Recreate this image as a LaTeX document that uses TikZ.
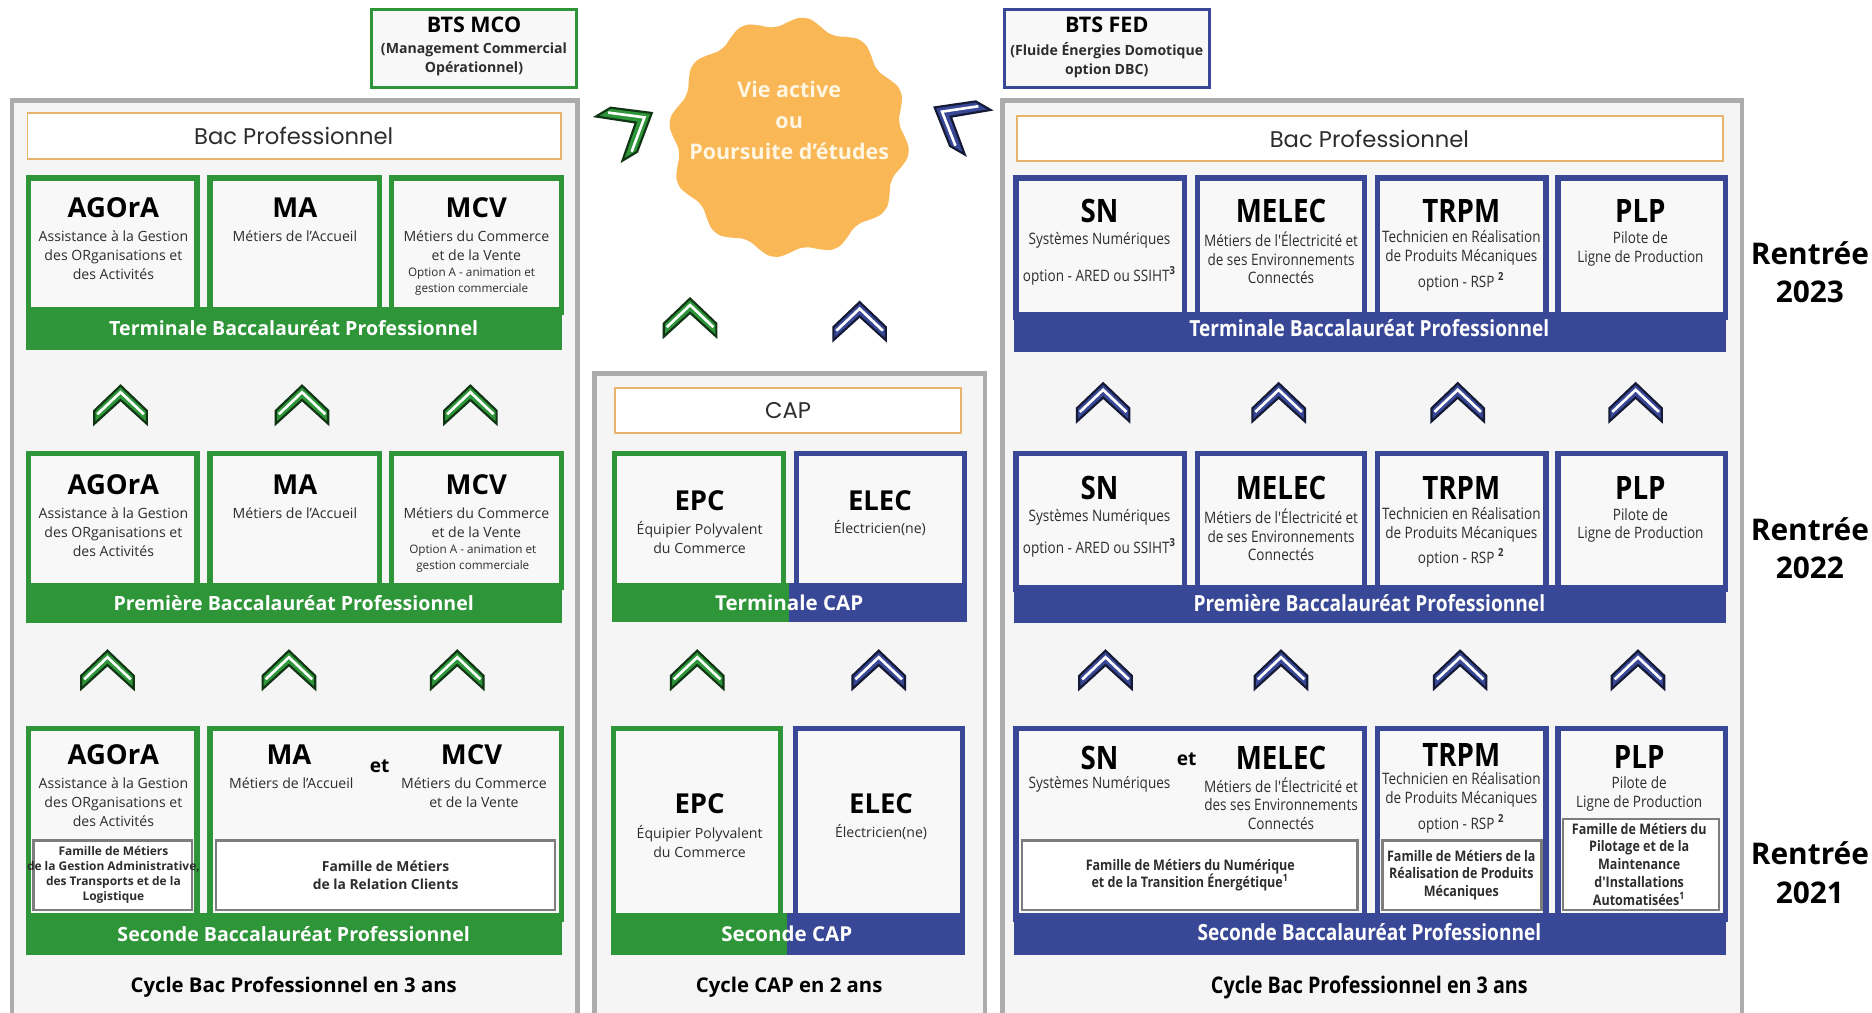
\documentclass[tikz,border=0pt]{standalone}
\usepackage{fontspec}
\setmainfont{Open Sans}
\newfontfamily\pop{Poppins}
\newfontfamily\cond[FakeStretch=0.86]{Open Sans}
\usetikzlibrary{fit}
\definecolor{cgreen}{RGB}{46,150,57}
\definecolor{cblue}{RGB}{57,72,150}
\definecolor{corange}{RGB}{249,183,85}
\definecolor{cgray}{RGB}{172,172,172}
\definecolor{cpanel}{RGB}{245,245,245}
\definecolor{ccard}{RGB}{248,248,248}
\definecolor{cbacb}{RGB}{232,180,105}
\definecolor{csub}{RGB}{125,125,125}
\definecolor{ctext}{RGB}{45,45,45}
\definecolor{cvie}{RGB}{255,246,228}
\begin{document}
\begin{tikzpicture}[x=0.5pt,y=-0.5pt,
  panel/.style={draw=cgray, line width=2pt, fill=cpanel, inner sep=0pt},
  bacbox/.style={draw=cbacb, line width=0.8pt, fill=white, inner sep=0pt},
  gcard/.style={draw=cgreen, line width=2.2pt, fill=ccard, inner sep=0pt},
  bcard/.style={draw=cblue, line width=2.2pt, fill=ccard, inner sep=0pt},
  gband/.style={fill=cgreen, inner sep=0pt},
  bband/.style={fill=cblue, inner sep=0pt},
  subbox/.style={draw=csub, line width=1pt, fill=white, inner sep=0pt},
  ttl/.style={font=\bfseries\fontsize{11.5}{13}\selectfont, text=black, inner sep=0pt},
  dsc/.style={font=\fontsize{5.9}{8}\selectfont, align=center, text=ctext, inner sep=0pt},
  opt/.style={font=\fontsize{4.9}{6.5}\selectfont, align=center, text=ctext, inner sep=0pt},
  sub/.style={font=\bfseries\fontsize{5}{6.3}\selectfont, align=center, text=ctext, inner sep=0pt},
  subw/.style={font=\bfseries\fontsize{5.8}{7.5}\selectfont, align=center, text=ctext, inner sep=0pt},
  rttl/.style={font=\cond\bfseries\fontsize{13.5}{15}\selectfont, text=black, inner sep=0pt},
  rdsc/.style={font=\cond\fontsize{6.6}{7.8}\selectfont, align=center, text=ctext, inner sep=0pt},
  rsub/.style={font=\cond\bfseries\fontsize{6.1}{7.5}\selectfont, align=center, text=ctext, inner sep=0pt},
  bandtxt/.style={font=\bfseries\fontsize{8.2}{10}\selectfont, text=white, inner sep=0pt},
  rbandtxt/.style={font=\cond\bfseries\fontsize{9.3}{10}\selectfont, text=white, inner sep=0pt},
  cyc/.style={font=\bfseries\fontsize{8.5}{10}\selectfont, text=black, inner sep=0pt},
  rcyc/.style={font=\cond\bfseries\fontsize{9.6}{10}\selectfont, text=black, inner sep=0pt},
  bactxt/.style={font=\pop\fontsize{9.5}{10}\selectfont, text=ctext, inner sep=0pt},
  etxt/.style={font=\bfseries\fontsize{8}{9}\selectfont, text=black, inner sep=0pt},
  rentree/.style={font=\bfseries\fontsize{12.5}{16}\selectfont, align=center, text=black, inner sep=0pt},
  btsbox/.style={line width=1.3pt, fill=ccard, inner sep=0pt},
  btsttl/.style={font=\bfseries\fontsize{9}{10}\selectfont, text=black, inner sep=0pt},
  btssub/.style={font=\bfseries\fontsize{5.9}{8}\selectfont, align=center, text=ctext, inner sep=0pt},
  pics/chev/.style={code={
    \fill[#1] (-22,4) -- (0,-17) -- (22,4) -- (22,15) -- (0,-5) -- (-22,15) -- cycle;
    \draw[#1!35!black, line width=0.9pt, line join=miter] (-22,4) -- (0,-17) -- (22,4) -- (22,15) -- (0,-5) -- (-22,15) -- cycle;
    \draw[white, line width=1.1pt] (-19.5,7) -- (0,-11.5) -- (19.5,7);
  }}
]
\useasboundingbox (0,0) rectangle (1568,848);
\clip (0,0) rectangle (1568,848);
\node[fill=white, inner sep=0pt, fit={(0,0)(1568,848)}] (bg) {};

% ---------- panels ----------
\node[panel, fit={(10,84)(484,858)}] (pL) {};
\node[panel, fit={(498,313)(825,858)}] (pM) {};
\node[panel, fit={(840,84)(1459,858)}] (pR) {};

% ---------- BTS boxes ----------
\node[btsbox, draw=cgreen, fit={(311,8)(483,73)}] (btsM) {};
\node[btsttl] at (397,21) (btsMt) {BTS MCO};
\node[btssub] at (397,50) (btsMs) {(Management Commercial\\Opérationnel)};
\node[btsbox, draw=cblue, fit={(841,8)(1013,73)}] (btsF) {};
\node[btsttl] at (927,21) (btsFt) {BTS FED};
\node[btssub] at (927,50) (btsFs) {(Fluide Énergies Domotique\\option DBC)};

% ---------- blob ----------
\fill[corange] plot[smooth cycle, samples=72, domain=0:355]
  ({661+(97+4*sin(12*\x))*cos(\x)},{115+(97+4*sin(12*\x))*sin(\x)});
\node[font=\bfseries\fontsize{9}{13}\selectfont, text=cvie, align=center, inner sep=0pt] at (661,101) (vie) {Vie active\\ou\\Poursuite d'études};

% ---------- Bac boxes ----------
\node[bacbox, fit={(23,95)(470,133)}] (bacL) {};
\node[bactxt] at (246,114) (bacLt) {Bac Professionnel};
\node[bacbox, fit={(852,97)(1443,135)}] (bacR) {};
\node[bactxt] at (1147,116) (bacRt) {Bac Professionnel};
\node[bacbox, fit={(515,325)(805,363)}] (capB) {};
\node[bactxt] at (660,344) (capBt) {CAP};

% ---------- LEFT: row 1 ----------
\node[gcard, fit={(24,149)(165,262)}] (L1a) {};
\node[gcard, fit={(176,149)(318,262)}] (L1b) {};
\node[gcard, fit={(328,149)(470,262)}] (L1c) {};
\node[gband, fit={(22,257)(471,293)}] (L1band) {};
\node[bandtxt] at (246,275) (L1bt) {Terminale Baccalauréat Professionnel};
\node[ttl] at (95,174) (L1at) {AGOrA};
\node[dsc] at (95,214) (L1ad) {Assistance à la Gestion\\des ORganisations et\\des Activités};
\node[ttl] at (247,174) (L1bt2) {MA};
\node[dsc] at (247,198) (L1bd) {Métiers de l'Accueil};
\node[ttl] at (399,174) (L1ct) {MCV};
\node[dsc] at (399,206) (L1cd) {Métiers du Commerce\\et de la Vente};
\node[opt] at (395,236) (L1co) {Option A - animation et\\gestion commerciale};

% ---------- LEFT: row 2 ----------
\node[gcard, fit={(24,380)(165,492)}] (L2a) {};
\node[gcard, fit={(176,380)(318,492)}] (L2b) {};
\node[gcard, fit={(328,380)(470,492)}] (L2c) {};
\node[gband, fit={(22,488)(471,522)}] (L2band) {};
\node[bandtxt] at (246,505) (L2bt) {Première Baccalauréat Professionnel};
\node[ttl] at (95,406) (L2at) {AGOrA};
\node[dsc] at (95,446) (L2ad) {Assistance à la Gestion\\des ORganisations et\\des Activités};
\node[ttl] at (247,406) (L2bt2) {MA};
\node[dsc] at (247,430) (L2bd) {Métiers de l'Accueil};
\node[ttl] at (399,406) (L2ct) {MCV};
\node[dsc] at (399,438) (L2cd) {Métiers du Commerce\\et de la Vente};
\node[opt] at (396,468) (L2co) {Option A - animation et\\gestion commerciale};

% ---------- LEFT: row 3 ----------
\node[gcard, fit={(24,610)(165,770)}] (L3a) {};
\node[gcard, fit={(176,610)(470,770)}] (L3b) {};
\node[gband, fit={(22,765)(471,800)}] (L3band) {};
\node[bandtxt] at (246,782) (L3bt) {Seconde Baccalauréat Professionnel};
\node[subbox, fit={(28,704)(161,762)}] (L3as) {};
\node[subbox, fit={(181,704)(465,762)}] (L3bs) {};
\node[ttl] at (95,632) (L3at) {AGOrA};
\node[dsc] at (95,672) (L3ad) {Assistance à la Gestion\\des ORganisations et\\des Activités};
\node[sub] at (95,733) (L3ast) {Famille de Métiers\\de la Gestion Administrative,\\des Transports et de la\\Logistique};
\node[ttl] at (242,632) (L3bt2) {MA};
\node[dsc] at (244,656) (L3bd) {Métiers de l'Accueil};
\node[etxt] at (318,642) (L3et) {et};
\node[ttl] at (395,632) (L3ct) {MCV};
\node[dsc] at (397,664) (L3cd) {Métiers du Commerce\\et de la Vente};
\node[subw] at (323,733) (L3bst) {Famille de Métiers\\de la Relation Clients};
\node[cyc] at (246,827) (Lcyc) {Cycle Bac Professionnel en 3 ans};

% ---------- MIDDLE ----------
\node[gcard, fit={(515,380)(656,492)}] (M1a) {};
\node[bcard, fit={(667,380)(808,492)}] (M1b) {};
\node[gband, fit={(513,488)(661,521)}] (M1g) {};
\node[bband, fit={(661,488)(810,521)}] (M1bl) {};
\node[bandtxt, font=\bfseries\fontsize{8.6}{10}\selectfont] at (661,505) (M1bt) {Terminale CAP};
\node[ttl] at (586,419) (M1at) {EPC};
\node[dsc] at (586,450) (M1ad) {Équipier Polyvalent\\du Commerce};
\node[ttl] at (737,419) (M1bt2) {ELEC};
\node[dsc] at (737,442) (M1bd) {Électricien(ne)};

\node[gcard, fit={(514,610)(654,770)}] (M3a) {};
\node[bcard, fit={(666,610)(806,770)}] (M3b) {};
\node[gband, fit={(512,765)(659,800)}] (M3g) {};
\node[bband, fit={(659,765)(808,800)}] (M3bl) {};
\node[bandtxt, font=\bfseries\fontsize{8.6}{10}\selectfont] at (659,782) (M3bt) {Seconde CAP};
\node[ttl] at (586,673) (M3at) {EPC};
\node[dsc] at (586,705) (M3ad) {Équipier Polyvalent\\du Commerce};
\node[ttl] at (738,673) (M3bt2) {ELEC};
\node[dsc] at (738,697) (M3bd) {Électricien(ne)};
\node[cyc] at (661,827) (Mcyc) {Cycle CAP en 2 ans};

% ---------- RIGHT: row 1 ----------
\node[bcard, fit={(851,149)(992,266)}] (R1a) {};
\node[bcard, fit={(1003,149)(1143,266)}] (R1b) {};
\node[bcard, fit={(1154,149)(1295,266)}] (R1c) {};
\node[bcard, fit={(1305,149)(1445,266)}] (R1d) {};
\node[bband, fit={(849,261)(1446,295)}] (R1band) {};
\node[rbandtxt] at (1147,275) (R1bt) {Terminale Baccalauréat Professionnel};
\node[rttl] at (921,177) (R1at) {SN};
\node[rdsc] at (921,201) (R1ad) {Systèmes Numériques};
\node[rdsc] at (921,231) (R1ao) {option - ARED ou SSIHT\textsuperscript{\bfseries 3}};
\node[rttl] at (1073,177) (R1bt2) {MELEC};
\node[rdsc] at (1073,216) (R1bd) {Métiers de l'Électricité et\\de ses Environnements\\Connectés};
\node[rttl] at (1224,177) (R1ct) {TRPM};
\node[rdsc] at (1224,207.5) (R1cd) {Technicien en Réalisation\\de Produits Mécaniques};
\node[rdsc] at (1224,236) (R1co) {option - RSP \textsuperscript{\bfseries 2}};
\node[rttl] at (1374,177) (R1dt) {PLP};
\node[rdsc] at (1374,208.5) (R1dd) {Pilote de\\Ligne de Production};

% ---------- RIGHT: row 2 ----------
\node[bcard, fit={(851,380)(992,494)}] (R2a) {};
\node[bcard, fit={(1003,380)(1143,494)}] (R2b) {};
\node[bcard, fit={(1154,380)(1295,494)}] (R2c) {};
\node[bcard, fit={(1305,380)(1445,494)}] (R2d) {};
\node[bband, fit={(849,490)(1446,522)}] (R2band) {};
\node[rbandtxt] at (1147,505) (R2bt) {Première Baccalauréat Professionnel};
\node[rttl] at (921,409) (R2at) {SN};
\node[rdsc] at (921,433) (R2ad) {Systèmes Numériques};
\node[rdsc] at (921,459) (R2ao) {option - ARED ou SSIHT\textsuperscript{\bfseries 3}};
\node[rttl] at (1073,409) (R2bt2) {MELEC};
\node[rdsc] at (1073,448) (R2bd) {Métiers de l'Électricité et\\de ses Environnements\\Connectés};
\node[rttl] at (1224,409) (R2ct) {TRPM};
\node[rdsc] at (1224,439.5) (R2cd) {Technicien en Réalisation\\de Produits Mécaniques};
\node[rdsc] at (1224,467) (R2co) {option - RSP \textsuperscript{\bfseries 2}};
\node[rttl] at (1374,409) (R2dt) {PLP};
\node[rdsc] at (1374,440) (R2dd) {Pilote de\\Ligne de Production};

% ---------- RIGHT: row 3 ----------
\node[bcard, fit={(851,610)(1143,770)}] (R3a) {};
\node[bcard, fit={(1154,610)(1295,770)}] (R3c) {};
\node[bcard, fit={(1305,610)(1445,770)}] (R3d) {};
\node[bband, fit={(849,765)(1446,800)}] (R3band) {};
\node[rbandtxt] at (1147,781) (R3bt) {Seconde Baccalauréat Professionnel};
\node[subbox, fit={(856,704)(1137,762)}] (R3as) {};
\node[subbox, fit={(1158,704)(1291,762)}] (R3cs) {};
\node[subbox, fit={(1309,686)(1440,762)}] (R3ds) {};
\node[rttl] at (921,635) (R3at) {SN};
\node[rdsc] at (921,657) (R3ad) {Systèmes Numériques};
\node[etxt] at (994,636) (R3et) {et};
\node[rttl] at (1073,635) (R3bt2) {MELEC};
\node[rdsc] at (1073,673) (R3bd) {Métiers de l'Électricité et\\des ses Environnements\\Connectés};
\node[rsub] at (997,733) (R3ast) {Famille de Métiers du Numérique\\et de la Transition Énergétique\textsuperscript{1}};
\node[rttl] at (1224,632) (R3ct) {TRPM};
\node[rdsc] at (1224,661.5) (R3cd) {Technicien en Réalisation\\de Produits Mécaniques};
\node[rdsc] at (1224,690) (R3co) {option - RSP \textsuperscript{\bfseries 2}};
\node[rsub] at (1224,733) (R3cst) {Famille de Métiers de la\\Réalisation de Produits\\Mécaniques};
\node[rttl] at (1373,634) (R3dt) {PLP};
\node[rdsc] at (1373,665) (R3dd) {Pilote de\\Ligne de Production};
\node[rsub] at (1373,724) (R3dst) {Famille de Métiers du\\Pilotage et de la\\Maintenance\\d'Installations\\Automatisées\textsuperscript{1}};
\node[rcyc] at (1147,827) (Rcyc) {Cycle Bac Professionnel en 3 ans};

% ---------- Rentrée labels ----------
\node[rentree] at (1516,228) (r23) {Rentrée\\2023};
\node[rentree] at (1516,459) (r22) {Rentrée\\2022};
\node[rentree] at (1516,731) (r21) {Rentrée\\2021};

% ---------- chevrons ----------
\pic (cLa1) at (101,340) {chev=cgreen};
\pic (cLa2) at (253,340) {chev=cgreen};
\pic (cLa3) at (394,340) {chev=cgreen};
\pic (cLb1) at (90,562) {chev=cgreen};
\pic (cLb2) at (242,562) {chev=cgreen};
\pic (cLb3) at (383,562) {chev=cgreen};
\pic (cMb1) at (584,562) {chev=cgreen};
\pic (cMb2) at (736,562) {chev=cblue};
\pic (cRa1) at (924,338) {chev=cblue};
\pic (cRa2) at (1071,338) {chev=cblue};
\pic (cRa3) at (1221,338) {chev=cblue};
\pic (cRa4) at (1370,338) {chev=cblue};
\pic (cRb1) at (926,562) {chev=cblue};
\pic (cRb2) at (1073,562) {chev=cblue};
\pic (cRb3) at (1223,562) {chev=cblue};
\pic (cRb4) at (1372,562) {chev=cblue};
\pic (cT1) at (578,267) {chev=cgreen};
\pic (cT2) at (720,270) {chev=cblue};
\pic[rotate=-59, xscale=0.98, yscale=1.3] (cT3) at (527,106) {chev=cgreen};
\pic[rotate=60, xscale=0.98, yscale=1.3] (cT4) at (802,101) {chev=cblue};
\end{tikzpicture}
\end{document}
